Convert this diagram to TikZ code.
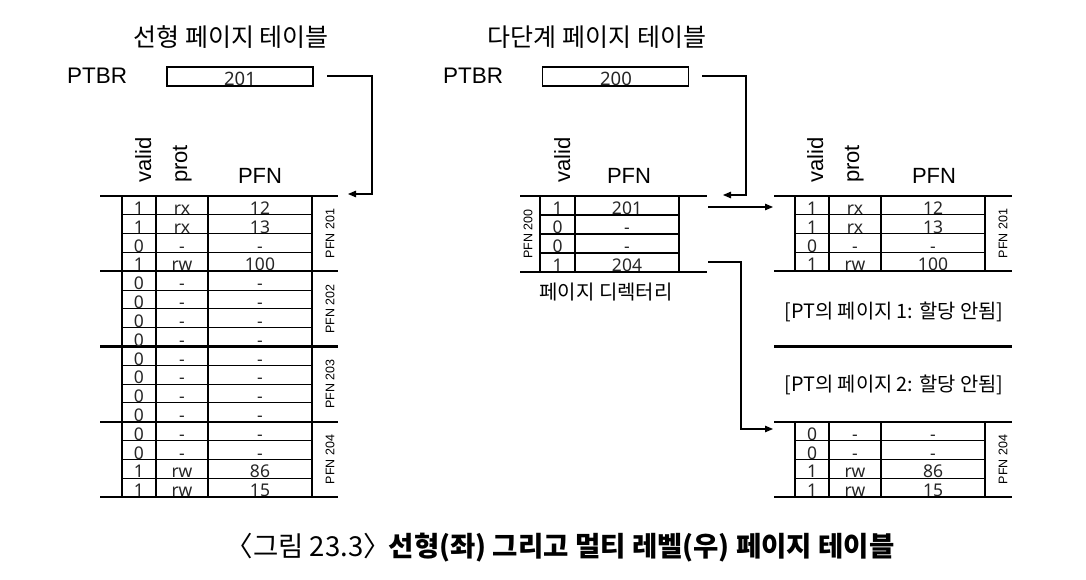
\documentclass[tikz,border=0pt]{standalone}
\usepackage{fontspec}
\setmainfont{Liberation Sans}
\newfontfamily\kr{Noto Sans CJK KR}
\newfontfamily\cellf{Noto Sans}
\usetikzlibrary{arrows.meta}
\begin{document}
\begin{tikzpicture}[x=1pt,y=-1pt,
  thickln/.style={line width=2.3pt},
  thinln/.style={line width=1.1pt},
  cell/.style={font=\cellf\fontsize{17.5}{17.5}\selectfont, anchor=base, inner sep=0pt, text=black!85},
  hdr/.style={font=\fontsize{22}{22}\selectfont, inner sep=0pt},
  vhdr/.style={hdr, rotate=90, anchor=base west},
  blk/.style={font=\fontsize{12.5}{12.5}\selectfont, rotate=90, inner sep=0pt},
  title/.style={font=\kr\fontsize{25}{25}\selectfont, inner sep=0pt},
  note/.style={font=\kr\fontsize{19.8}{19.8}\selectfont, inner sep=0pt},
  regbox/.style={draw, line width=1.1pt, minimum width=146pt, minimum height=19pt, inner sep=0pt},
  conn/.style={line width=1.1pt},
  arr/.style={conn, -{Triangle[length=8pt,width=6.5pt]}},
]
\useasboundingbox (0,0) rectangle (1086,580);

% ---------- titles ----------
\node[title] (titleL) at (231,37) {선형 페이지 테이블};
\node[title] (titleR) at (597,37) {다단계 페이지 테이블};

% ---------- PTBR registers ----------
\node[hdr, anchor=base west, font=\fontsize{22.5}{22.5}\selectfont] (ptbrL) at (67,84) {PTBR};
\node[regbox] (boxL) at (240,76.5) {};
\node[cell, font=\cellf\fontsize{18.5}{18.5}\selectfont] (valL) at (240,86) {201};
\node[hdr, anchor=base west, font=\fontsize{22.5}{22.5}\selectfont] (ptbrR) at (443,84) {PTBR};
\node[regbox] (boxR) at (615.5,76.5) {};
\node[cell, font=\cellf\fontsize{18.5}{18.5}\selectfont] (valR) at (616,86) {200};

% ---------- linear page table (left) ----------
\node[vhdr] (hLv) at (151,183) {valid};
\node[vhdr] (hLp) at (187,183) {prot};
\node[hdr, anchor=base] (hLf) at (260,184) {PFN};
\foreach \k in {0,...,4} \draw[thickln] (100,196+75.25*\k) -- (338,196+75.25*\k);
\foreach \x in {122,156,208,312} \draw[thinln] (\x,196) -- (\x,497);
\foreach \i in {1,2,3,5,6,7,9,10,11,13,14,15} \draw[thinln] (122,196+18.8125*\i) -- (312,196+18.8125*\i);
\foreach \v/\p/\f [count=\i from 1] in {1/rx/12,1/rx/13,0/-/-,1/rw/100,
  0/-/-,0/-/-,0/-/-,0/-/-,0/-/-,0/-/-,0/-/-,0/-/-,0/-/-,0/-/-,1/rw/86,1/rw/15}{
  \node[cell] (lv\i) at (139,196+18.8125*\i-0.3) {\v};
  \node[cell] (lp\i) at (182,196+18.8125*\i-0.3) {\p};
  \node[cell] (lf\i) at (260,196+18.8125*\i-0.3) {\f};
}
\foreach \n [count=\k from 0] in {201,202,203,204}
  \node[blk] (lb\n) at (330,196+75.25*\k+37.6) {PFN \n};

% ---------- page directory (middle) ----------
\node[vhdr] (hDv) at (570,183) {valid};
\node[hdr, anchor=base] (hDf) at (629,184) {PFN};
\draw[thickln] (520,196) -- (707,196);
\draw[thickln] (520,272) -- (707,272);
\foreach \x in {540,575,679} \draw[thinln] (\x,196) -- (\x,272);
\foreach \i in {1,2,3} \draw[thinln] (540,196+19*\i) -- (679,196+19*\i);
\foreach \v/\f [count=\i from 1] in {1/201,0/-,0/-,1/204}{
  \node[cell] (dv\i) at (557.5,196+19*\i-0.3) {\v};
  \node[cell] (df\i) at (627,196+19*\i-0.3) {\f};
}
\node[blk] (db200) at (528,234) {PFN 200};
\node[font=\kr\fontsize{20}{20}\selectfont, inner sep=0pt] (dirlbl) at (606,292) {페이지 디렉터리};

% ---------- multi-level page tables (right) ----------
\node[vhdr] (hRv) at (823,183) {valid};
\node[vhdr] (hRp) at (859,183) {prot};
\node[hdr, anchor=base] (hRf) at (934,184) {PFN};
\foreach \k in {0,...,4} \draw[thickln] (774,196+75.25*\k) -- (1012,196+75.25*\k);
\foreach \x in {795,829,881,985}{
  \draw[thinln] (\x,196) -- (\x,271.25);
  \draw[thinln] (\x,421.75) -- (\x,497);
}
\foreach \i in {1,2,3,13,14,15} \draw[thinln] (795,196+18.8125*\i) -- (985,196+18.8125*\i);
\foreach \v/\p/\f [count=\i from 1] in {1/rx/12,1/rx/13,0/-/-,1/rw/100}{
  \node[cell] (rav\i) at (812,196+18.8125*\i-0.3) {\v};
  \node[cell] (rap\i) at (855,196+18.8125*\i-0.3) {\p};
  \node[cell] (raf\i) at (933,196+18.8125*\i-0.3) {\f};
}
\foreach \v/\p/\f [count=\i from 13] in {0/-/-,0/-/-,1/rw/86,1/rw/15}{
  \node[cell] (rbv\i) at (812,196+18.8125*\i-0.3) {\v};
  \node[cell] (rbp\i) at (855,196+18.8125*\i-0.3) {\p};
  \node[cell] (rbf\i) at (933,196+18.8125*\i-0.3) {\f};
}
\node[blk] (rb201) at (1003,233.6) {PFN 201};
\node[blk] (rb204) at (1003,459.4) {PFN 204};
\node[note] (na1) at (894,312) {[PT의 페이지 1: 할당 안됨]};
\node[note] (na2) at (894,385) {[PT의 페이지 2: 할당 안됨]};

% ---------- connectors ----------
\coordinate (sL) at (327,76);
\coordinate (tL) at (348,194);
\draw[arr] (sL) -- ++(45,0) |- (tL);
\coordinate (sR) at (702,76);
\coordinate (tR) at (723,195);
\draw[arr] (sR) -- ++(44,0) |- (tR);
\coordinate (d1) at (708,207);
\coordinate (t1) at (773,207);
\draw[arr] (d1) -- (t1);
\coordinate (d4) at (708,262);
\coordinate (t4) at (773,429);
\draw[arr] (d4) -- ++(33,0) |- (t4);

% ---------- caption ----------
\node[inner sep=0pt, font=\kr\fontsize{27.5}{27.5}\selectfont] (cap) at (560,548)
  {〈그림 23.3〉\hspace{-0.3em} \textbf{선형(좌) 그리고 멀티 레벨(우) 페이지 테이블}};
\end{tikzpicture}
\end{document}
